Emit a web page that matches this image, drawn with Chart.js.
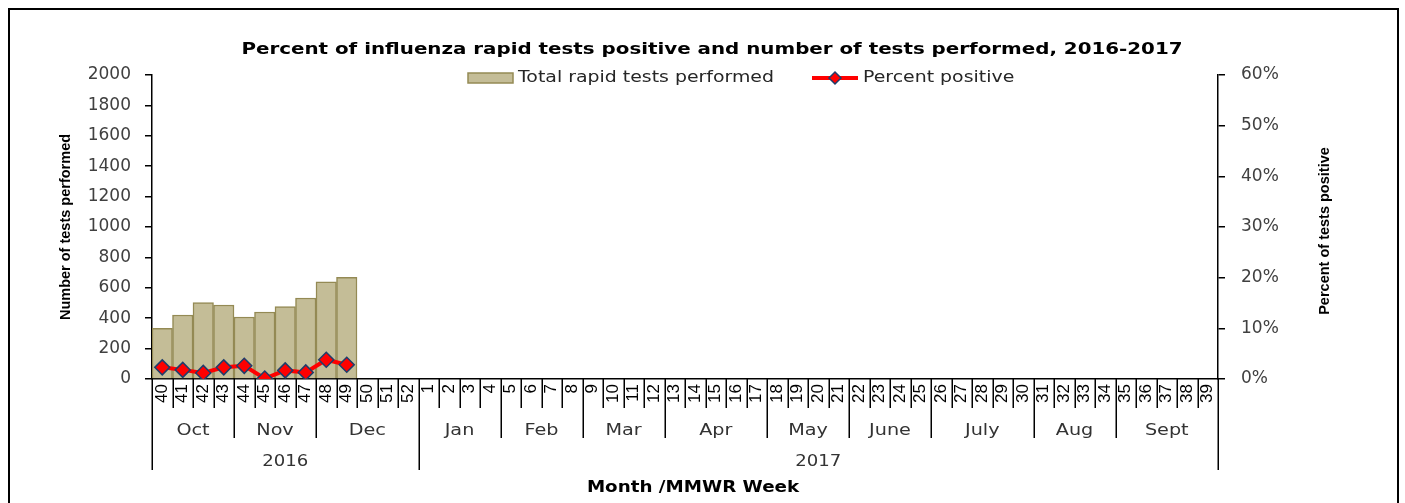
<!DOCTYPE html>
<html>
<head>
<meta charset="utf-8">
<script src="https://cdn.jsdelivr.net/npm/chart.js@4.4.1/dist/chart.umd.min.js"></script>
<style>
  html, body { margin: 0; padding: 0; background: #fff; }
  #wrap { position: relative; width: 1405px; height: 503px; overflow: hidden; }
  #frame { position: absolute; left: 8px; top: 8px; width: 1387px; height: 520px; border: 2px solid #000; }
  canvas { position: absolute; left: 0; top: 0; }
</style>
</head>
<body>
<div id="wrap">
  <div id="frame"></div>
  <canvas id="chart" width="1405" height="503"></canvas>
</div>
<script>
// -------------------------------
// Data
// -------------------------------
const weeks = [
  "40", "41", "42", "43", "44", "45", "46", "47", "48", "49", "50", "51", "52",
  "1", "2", "3", "4", "5", "6", "7", "8", "9", "10", "11", "12", "13", "14", "15",
  "16", "17", "18", "19", "20", "21", "22", "23", "24", "25", "26", "27", "28",
  "29", "30", "31", "32", "33", "34", "35", "36", "37", "38", "39"
];
const months = ["Oct", "Nov", "Dec", "Jan", "Feb", "Mar", "Apr", "May", "June", "July", "Aug", "Sept"];
const monthWeeks = [4, 4, 5, 4, 4, 4, 5, 4, 4, 5, 4, 5];
const years = ["2016", "2017"];
const yearWeeks = [13, 39];

const testsPerformed = [333, 421, 502, 487, 408, 441, 476, 533, 640, 669];
const percentPositive = [2.3, 1.8, 1.2, 2.3, 2.6, 0.1, 1.7, 1.3, 3.8, 2.8];

const chartTitle = "Percent of influenza rapid tests positive and number of tests performed, 2016-2017";
const xTitle = "Month /MMWR Week";
const rightTitle = "Percent of tests positive";

// text drawn a little wider than the font, like the original export
function wideText(ctx, text, x, y, sx) {
  ctx.save();
  ctx.translate(x, y);
  ctx.scale(sx, 1);
  ctx.fillText(text, 0, 0);
  ctx.restore();
}

// -------------------------------
// Extra drawing: title, legend, axis titles, month / year rows
// -------------------------------
const extras = {
  id: "extras",
  afterDraw(chart) {
    const ctx = chart.ctx;
    const x = chart.scales.x;
    const area = chart.chartArea;
    const bars = chart.data.datasets[0];
    const line = chart.data.datasets[1];

    ctx.save();
    ctx.textBaseline = "middle";

    // title
    ctx.fillStyle = "#000";
    ctx.font = "bold 16px 'DejaVu Sans'";
    ctx.textAlign = "center";
    wideText(ctx, chartTitle, 712, 50, 1.24);

    // legend
    ctx.font = "15px 'DejaVu Sans'";
    ctx.textAlign = "left";
    const ly = 78;
    let lx = 468;
    ctx.fillStyle = bars.backgroundColor;
    ctx.strokeStyle = bars.borderColor;
    ctx.lineWidth = 1.5;
    ctx.fillRect(lx, ly - 5, 45, 10);
    ctx.strokeRect(lx, ly - 5, 45, 10);
    ctx.fillStyle = "#262626";
    wideText(ctx, bars.label, lx + 50, ly, 1.26);

    lx = 812;
    ctx.strokeStyle = line.borderColor;
    ctx.lineWidth = 4;
    ctx.beginPath();
    ctx.moveTo(lx, ly);
    ctx.lineTo(lx + 46, ly);
    ctx.stroke();
    ctx.fillStyle = line.pointBackgroundColor;
    ctx.strokeStyle = line.pointBorderColor;
    ctx.lineWidth = 1.5;
    ctx.beginPath();
    ctx.moveTo(lx + 23, ly - 6);
    ctx.lineTo(lx + 29, ly);
    ctx.lineTo(lx + 23, ly + 6);
    ctx.lineTo(lx + 17, ly);
    ctx.closePath();
    ctx.fill();
    ctx.stroke();
    ctx.fillStyle = "#262626";
    wideText(ctx, line.label, lx + 51, ly, 1.26);

    // right axis title (reads bottom to top)
    ctx.save();
    ctx.translate(1325, (area.top + area.bottom) / 2 + 4);
    ctx.rotate(-Math.PI / 2);
    ctx.textAlign = "center";
    ctx.fillStyle = "#000";
    ctx.font = "bold 14.5px 'Liberation Sans'";
    ctx.fillText(rightTitle, 0, 0);
    ctx.restore();

    // category separators
    const w = x.getPixelForValue(1) - x.getPixelForValue(0);
    const x0 = x.getPixelForValue(0) - w / 2;
    const monthEdges = [0];
    monthWeeks.forEach(n => monthEdges.push(monthEdges[monthEdges.length - 1] + n));
    const yearEdges = [0];
    yearWeeks.forEach(n => yearEdges.push(yearEdges[yearEdges.length - 1] + n));

    ctx.strokeStyle = "#000";
    ctx.lineWidth = 1.5;
    for (let i = 0; i <= weeks.length; i++) {
      let bottom = 408;
      if (monthEdges.includes(i)) bottom = 438;
      if (yearEdges.includes(i)) bottom = 470;
      const bx = Math.round(x0 + i * w) + 0.25;
      ctx.beginPath();
      ctx.moveTo(bx, area.bottom);
      ctx.lineTo(bx, bottom);
      ctx.stroke();
    }

    // month and year labels
    ctx.fillStyle = "#333";
    ctx.font = "16px 'DejaVu Sans'";
    ctx.textAlign = "center";
    months.forEach((m, i) => {
      const cx = x0 + (monthEdges[i] + monthEdges[i + 1]) / 2 * w;
      wideText(ctx, m, cx, 431, 1.2);
    });
    years.forEach((yr, i) => {
      const cx = x0 + (yearEdges[i] + yearEdges[i + 1]) / 2 * w;
      wideText(ctx, yr, cx, 462, 1.13);
    });

    // x axis title
    ctx.fillStyle = "#000";
    ctx.font = "bold 15px 'DejaVu Sans'";
    wideText(ctx, xTitle, (area.left + area.right) / 2 + 8, 488, 1.22);

    ctx.restore();
  }
};

// -------------------------------
// Chart
// -------------------------------
const axisGrid = { drawOnChartArea: false, tickLength: 7, color: "#000", lineWidth: 1.5 };

new Chart(document.getElementById("chart"), {
  type: "bar",
  data: {
    labels: weeks,
    datasets: [
      {
        type: "bar",
        label: "Total rapid tests performed",
        data: testsPerformed,
        yAxisID: "y",
        backgroundColor: "#c4bd97",
        borderColor: "#948a54",
        borderWidth: 1.5,
        barPercentage: 1,
        categoryPercentage: 1,
        order: 2
      },
      {
        type: "line",
        label: "Percent positive",
        data: percentPositive,
        yAxisID: "y1",
        borderColor: "#ff0000",
        borderWidth: 4,
        pointStyle: "rectRot",
        pointRadius: 7.5,
        pointBackgroundColor: "#ff0000",
        pointBorderColor: "#1f3d6b",
        pointBorderWidth: 1.5,
        tension: 0,
        order: 1
      }
    ]
  },
  options: {
    responsive: false,
    animation: false,
    devicePixelRatio: 1,
    layout: { padding: { top: 75, left: 57, right: 71, bottom: 0 } },
    plugins: {
      legend: { display: false },
      title: { display: false },
      tooltip: { enabled: false }
    },
    scales: {
      x: {
        grid: { display: false, drawTicks: false },
        border: { display: true, color: "#000", width: 1.5 },
        ticks: {
          autoSkip: false,
          minRotation: 90,
          maxRotation: 90,
          padding: 5,
          color: "#000",
          font: { family: "Liberation Sans", size: 17 }
        },
        afterFit(scale) { scale.height = 124; }
      },
      y: {
        position: "left",
        min: 0,
        max: 2000,
        ticks: {
          stepSize: 200,
          padding: 14,
          color: "#404040",
          font: { family: "DejaVu Sans", size: 17 },
          callback: v => String(v)
        },
        grid: axisGrid,
        border: { color: "#000", width: 1.5 },
        title: {
          display: true,
          text: "Number of tests performed",
          color: "#000",
          font: { family: "Liberation Sans", size: 14.5, weight: "bold" },
          padding: { top: 0, bottom: 0 }
        },
        afterFit(scale) { scale.width = 95; }
      },
      y1: {
        position: "right",
        min: 0,
        max: 60,
        ticks: {
          stepSize: 10,
          padding: 16,
          color: "#404040",
          font: { family: "DejaVu Sans", size: 17 },
          callback: v => v + "%"
        },
        grid: axisGrid,
        border: { color: "#000", width: 1.5 },
        afterFit(scale) { scale.width = 116; }
      }
    }
  },
  plugins: [extras]
});
</script>
</body>
</html>
